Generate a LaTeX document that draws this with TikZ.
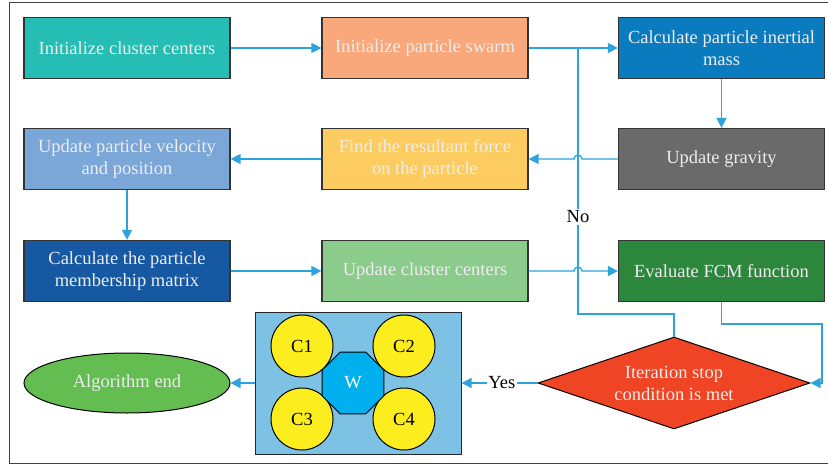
\documentclass[tikz,border=0pt]{standalone}
\usepackage{fontspec}
\setmainfont{Liberation Serif}
\usetikzlibrary{arrows.meta,shapes.geometric}
\definecolor{c_teal}{HTML}{26BDB4}
\definecolor{c_salmon}{HTML}{F8A87B}
\definecolor{c_blue}{HTML}{0B7BC0}
\definecolor{c_gray}{HTML}{6A6A6A}
\definecolor{c_gold}{HTML}{FDCC60}
\definecolor{c_sky}{HTML}{7BA6D8}
\definecolor{c_navy}{HTML}{1659A2}
\definecolor{c_mint}{HTML}{8BCB8B}
\definecolor{c_green}{HTML}{2C873D}
\definecolor{c_red}{HTML}{EF4524}
\definecolor{c_lime}{HTML}{63BD50}
\definecolor{c_line}{HTML}{2CA3DC}
\definecolor{c_panel}{HTML}{7DC1E5}
\definecolor{c_yellow}{HTML}{FCEE1E}
\definecolor{c_cyan}{HTML}{00B0EE}

\begin{document}
\begin{tikzpicture}[x=1pt,y=-1pt,
                    box_style/.style={rectangle, draw=black!80, line width=1.2pt, minimum width=206pt, minimum height=61pt,
                                      inner sep=2pt, align=center, text=white!93!black, font=\fontsize{18.5}{22}\selectfont},
                    edge_style/.style={draw=c_line, line width=1.3pt, -{Triangle[length=10pt,width=10pt]}},
                    line_style/.style={draw=c_line, line width=1.3pt},
                    label_style/.style={fill=white, inner sep=1.5pt, font=\fontsize{18.5}{20}\selectfont},
                    ball_style/.style={circle, draw=black, line width=1pt, fill=c_yellow, minimum size=62pt, inner sep=0pt,
                                       font=\fontsize{18.5}{20}\selectfont}]
                    \useasboundingbox (0,0) rectangle (828,466);
                    \draw[black!75, line width=1pt] (828,2) -- (9,2) -- (9,463) -- (828,463);
                    % first row
                    \node[box_style, fill=c_teal] (init_centers) at (127,48) {Initialize cluster centers};
                    \node[box_style, fill=c_salmon] (init_swarm) at (425,48) {Initialize particle swarm};
                    \node[box_style, fill=c_blue] (inertial_mass) at (721.5,48) {Calculate particle inertial\\mass};
                    % second row
                    \node[box_style, fill=c_sky] (velocity) at (127,159) {Update particle velocity\\and position};
                    \node[box_style, fill=c_gold] (force) at (425,159) {Find the resultant force\\on the particle};
                    \node[box_style, fill=c_gray] (gravity) at (721.5,159) {Update gravity};
                    % third row
                    \node[box_style, fill=c_navy] (membership) at (127,271) {Calculate the particle\\membership matrix};
                    \node[box_style, fill=c_mint] (new_centers) at (425,271) {Update cluster centers};
                    \node[box_style, fill=c_green] (fcm) at (721.5,271) {Evaluate FCM function};
                    % last row
                    \node[diamond, aspect=3, draw=black, line width=1pt, fill=c_red, minimum width=272pt, minimum height=92pt,
                          inner sep=0pt, align=center, text=white!93!black, font=\fontsize{18.5}{22}\selectfont]
                          (stop) at (674,383) {Iteration stop\\condition is met};
                    \node[rectangle, draw=black!85, line width=1pt, fill=c_panel, minimum width=206pt, minimum height=142pt]
                          (panel) at (358,383) {};
                    \node[ball_style] (c1) at (302,346) {C1};
                    \node[ball_style] (c2) at (404,346) {C2};
                    \node[ball_style] (c3) at (302,419) {C3};
                    \node[ball_style] (c4) at (404,419) {C4};
                    \node[regular polygon, regular polygon sides=8, draw=black, line width=1pt, fill=c_cyan, minimum size=67pt,
                          inner sep=0pt, text=white, font=\fontsize{18.5}{20}\selectfont] (w) at (353,383) {W};
                    \node[ellipse, draw=black, line width=1pt, fill=c_lime, minimum width=206pt, minimum height=60pt,
                          text=white!93!black, font=\fontsize{18.5}{20}\selectfont] (finish) at (127,383) {Algorithm end};
                    % connectors
                    \coordinate (loop_turn) at (578,314);
                    \coordinate (fcm_turn) at (822,324);
                    \draw[edge_style] (init_centers) -- (init_swarm);
                    \draw[edge_style] (init_swarm) -- (inertial_mass);
                    \draw[edge_style] (inertial_mass) -- (gravity);
                    \draw[edge_style] (gravity.west) -- ([xshift=4pt]loop_turn |- gravity.west)
                          arc[start angle=0, end angle=180, radius=4pt] -- (force.east);
                    \draw[edge_style] (force) -- (velocity);
                    \draw[edge_style] (velocity) -- (membership);
                    \draw[edge_style] (membership) -- (new_centers);
                    \draw[edge_style] (new_centers.east) -- ([xshift=-4pt]loop_turn |- new_centers.east)
                          arc[start angle=180, end angle=0, radius=4pt] -- (fcm.west);
                    \draw[edge_style] (fcm.south) |- (fcm_turn) |- (stop.east);
                    \draw[line_style] (stop.north) |- (loop_turn) -- (loop_turn |- init_swarm.east);
                    \node[label_style] (no_label) at (578,217) {No};
                    \draw[edge_style] (stop.west) -- (panel.east) node[label_style, pos=0.47] (yes_label) {Yes};
                    \draw[edge_style] (panel.west) -- (finish.east);
                \end{tikzpicture}
\end{document}
